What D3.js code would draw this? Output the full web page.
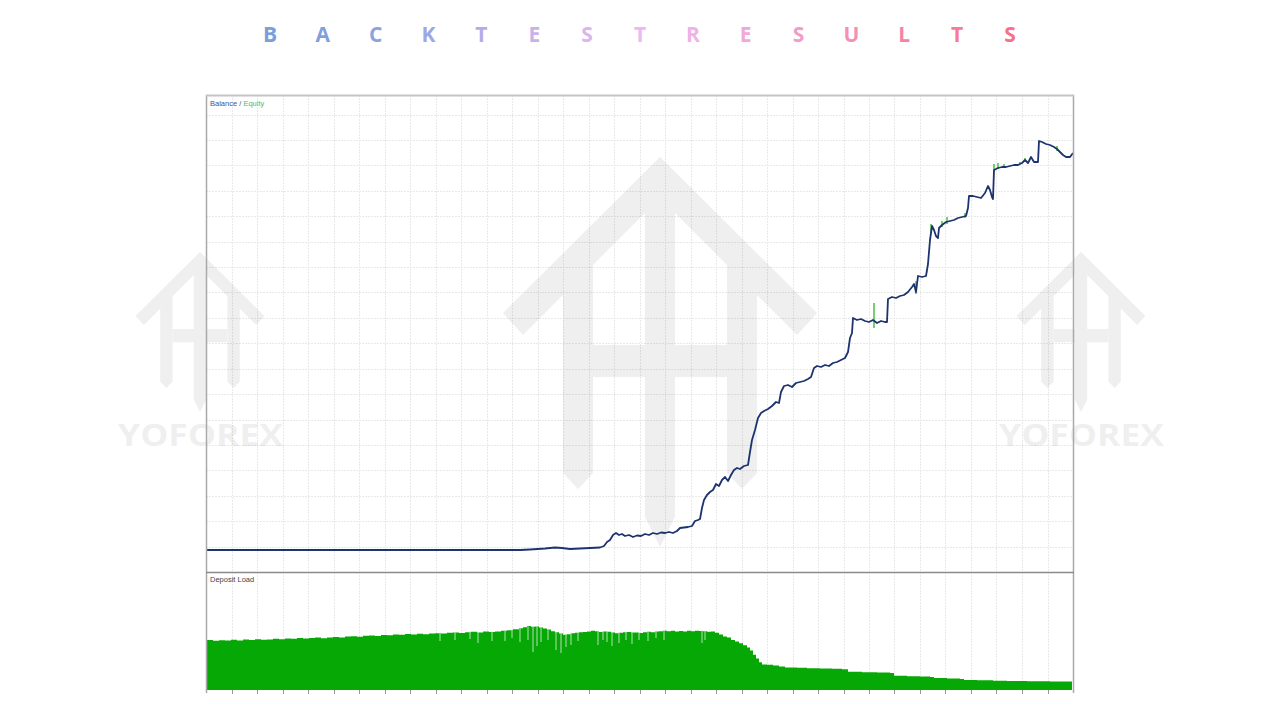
<!DOCTYPE html>
<html><head><meta charset="utf-8">
<script src="https://cdn.jsdelivr.net/npm/d3@7"></script>
<style>body{margin:0;background:#fff}svg{display:block}</style>
</head><body>
<svg id="c" width="1280" height="720"></svg>
<script>
// ---------- DATA ----------
const titleLetters = ["B","A","C","K","T","E","S","T","R","E","S","U","L","T","S"];
const titleColors = ["#7a9fdc","#7f9fdd","#8ba4e0","#9ea8e4","#b4ace8","#c9b1ec","#dab5ef","#e9b9f1","#f0b1e6","#f2a7d9","#f49cc8","#f590b5","#f683a3","#f77b95","#f8708a"];

// balance curve: [trade #, balance]
const balanceTrade = [0,93,193,293,313,323,338,348,355,363,373,383,393,397,400,403,406,409,412,415,418,422,426,430,434,438,442,446,450,454,458,462,466,470,473,477,481,485,488,491,493,495,497,500,503,506,509,512,515,518,521,524,527,530,533,537,541,543,545,548,551,554,557,561,565,569,572,574,577,581,585,589,593,597,601,604,607,610,614,618,622,626,630,634,638,641,643,645,646,650,654,658,662,666,670,674,678,680,681,685,689,693,697,701,705,707,709,711,715,719,721,723,725,727,729,731,732,735,739,743,747,751,755,759,761,762,766,770,774,778,781,783,785,786,787,791,795,799,803,807,811,815,818,821,824,827,831,832,835,839,843,847,850,853,856,859,863,866];
const balanceValue = [10000,10000,10000,10000,10000,10050,10150,10250,10200,10100,10150,10200,10250,10400,10800,11000,11500,11700,11500,11600,11400,11500,11300,11450,11400,11600,11500,11700,11600,11750,11700,11800,11700,11900,12200,12250,12300,12400,12900,13000,13100,14200,15000,15500,15800,16000,16600,16400,17000,17300,16900,17500,18000,18200,18100,18400,18500,19800,21000,22000,23200,23700,23900,24100,24400,24800,24700,25800,26400,26500,26300,26700,26800,26900,27100,27300,28200,28400,28300,28500,28400,28700,28800,29000,29200,29800,31200,31700,33200,33000,33100,32900,32800,33000,32700,32900,32800,32800,35100,35300,35200,35400,35500,35800,36300,36600,35800,37400,37300,37400,38600,41000,42400,42000,41400,41200,42200,42500,42800,42900,43000,43200,43300,43400,44200,45400,45400,45300,45200,45700,46400,46000,45300,45100,48000,48200,48300,48300,48400,48500,48500,48700,49000,48700,49300,48800,48800,50900,50800,50600,50500,50300,50100,49800,49500,49300,49300,49700];

// equity excursions away from balance: [trade #, low, high]
const equitySpikes = [[667,32200,34700],[709,35600,36900],[724,41700,42600],[735,42300,42900],[740,42600,43300],[758,43200,43700],[787,47800,48600],[791,48100,48700],[797,48200,48600],[813,48600,48800],[818,48800,49200],[850,49900,50400]];

// deposit load envelope: [trade #, load %]
const loadTrade = [0,6,12,18,24,30,36,42,48,54,60,66,72,78,84,90,96,102,108,114,120,126,132,138,144,150,156,162,168,174,180,186,192,198,204,210,216,222,228,234,240,246,252,258,264,270,276,282,288,294,300,306,312,316,320,324,328,332,336,340,344,348,352,356,360,364,368,372,376,380,384,388,392,396,400,404,408,412,416,420,424,428,432,436,440,444,448,452,456,460,464,468,472,476,480,484,488,492,496,500,504,508,512,516,520,524,528,532,536,540,543,546,549,552,555,560,566,572,578,590,600,613,625,635,641,655,670,683,687,700,713,723,727,740,753,757,770,786,800,820,843,865];
const loadValue = [25.0,24.6,24.9,24.7,25.1,24.8,25.2,25.0,25.4,25.1,25.3,25.6,25.4,25.8,25.6,26.0,25.7,26.0,26.2,25.9,26.3,26.5,26.2,26.7,26.9,26.6,27.1,27.3,27.0,27.5,27.4,27.8,27.6,28.0,27.8,28.1,27.9,28.3,28.4,28.2,28.6,28.8,28.5,28.9,29.1,28.8,29.3,29.0,29.2,29.6,29.9,30.4,30.9,31.4,32.0,31.6,31.8,31.2,30.8,30.2,29.4,28.9,28.2,27.6,27.9,28.4,28.6,28.9,29.0,29.3,29.6,29.4,29.0,29.3,29.1,28.7,28.4,28.6,28.9,29.0,28.7,28.8,28.5,28.9,29.1,28.9,29.3,29.4,29.6,29.4,29.6,29.3,29.5,29.3,29.6,29.4,29.6,29.5,29.4,29.1,29.2,28.6,27.8,26.8,26.2,25.0,24.2,23.4,22.4,21.2,19.8,17.6,15.8,13.9,12.8,12.6,12.3,11.8,11.2,11.1,10.9,10.8,10.6,10.4,9.1,8.9,8.7,8.5,7.1,6.9,6.7,6.5,6.0,5.8,5.5,5.0,4.9,4.6,4.5,4.4,4.3,4.25];
// individual low-load trades (pale spikes): [trade #, load %]
const loadDips = [[233,24.5],[248,25],[263,25.5],[271,23.5],[285,24.5],[298,24.5],[305,26],[313,24],[321,25],[326,19],[330,22],[334,24],[341,25],[349,20],[354,18.5],[359,21.5],[364,22.5],[371,24.5],[391,22.5],[396,25],[400,24],[405,22],[412,23.5],[419,25],[425,23],[432,25],[441,24.5],[449,26],[457,25],[495,23.5],[498,25]];

// ---------- DRAW ----------
const svg = d3.select("#c");
const L = 206, R = 1074, T = 95, MID = 572, B = 691;

// title
const tx = d3.scalePoint().domain(d3.range(titleLetters.length)).range([270, 1010]);
svg.append("g").selectAll("text").data(titleLetters).join("text")
  .attr("x", (d,i) => tx(i)).attr("y", 42)
  .attr("text-anchor", "middle")
  .attr("font-family", "'Open Sans', 'DejaVu Sans', sans-serif")
  .attr("font-weight", 700).attr("font-size", 21)
  .attr("fill", (d,i) => titleColors[i]).text(d => d);

const x = d3.scaleLinear().domain([0, 866]).range([207, 1073]);
const y = d3.scaleLinear().domain([7800, 55500]).range([MID, T]);
const yl = d3.scaleLinear().domain([0, 59]).range([690, MID]);

// grid
const gx = d3.scaleLinear().domain([0, 34]).range([L, 1073]);
const gy = d3.scaleLinear().domain([0, 18]).range([MID, 114.5]);
const grid = svg.append("g").attr("stroke", "#e9e9e9").attr("stroke-width", 1).attr("stroke-dasharray", "2,1");
grid.selectAll("line.v").data(d3.range(1, 34)).join("line")
  .attr("x1", d => Math.round(gx(d)) + 0.5).attr("x2", d => Math.round(gx(d)) + 0.5)
  .attr("y1", T).attr("y2", B);
grid.selectAll("line.h").data(d3.range(1, 19)).join("line")
  .attr("y1", d => Math.round(gy(d)) + 0.5).attr("y2", d => Math.round(gy(d)) + 0.5)
  .attr("x1", L).attr("x2", R);

// watermark
const chevron = [[0,0],[157,156],[137,178],[0,41],[-137,178],[-157,156]];
const leftBar = [[-97,105],[-67,105],[-67,316],[-82,332],[-97,316]];
const rightBar = [[67,105],[97,105],[97,316],[82,332],[67,316]];
const centerBar = [[-15,15],[15,15],[15,360],[0,390],[-15,360]];
const crossBar = [[-67,188],[67,188],[67,220],[-67,220]];
const shapes = [chevron, leftBar, rightBar, centerBar, crossBar];
function logo(cx, cy, s, withText) {
  const g = svg.append("g").attr("opacity", 0.06);
  const gg = g.append("g").attr("transform", `translate(${cx},${cy}) scale(${s})`);
  gg.selectAll("path").data(shapes).join("path")
    .attr("d", d => "M" + d.map(p => p.join(",")).join("L") + "Z").attr("fill", "#000");
  if (withText) {
    g.append("text").attr("x", cx - 82).attr("y", cy + 194)
      .attr("textLength", 165).attr("lengthAdjust", "spacingAndGlyphs")
      .attr("font-family", "'Open Sans', sans-serif").attr("font-weight", 700)
      .attr("font-size", 30).attr("fill", "#000").text("YOFOREX");
  }
}
logo(200, 252, 0.41, true);
logo(1081, 252, 0.41, true);
logo(660, 157, 1, false);

// deposit load
const area = d3.area().curve(d3.curveStepAfter)
  .x(d => x(d[0])).y0(690).y1(d => yl(d[1]));
const loadData = loadTrade.map((t,i) => [t, loadValue[i]]);
svg.append("path").datum(loadData).attr("d", area).attr("fill", "#06a806");
const stepVal = t => { let v = loadValue[0]; for (let i=0;i<loadTrade.length;i++) if (loadTrade[i] <= t) v = loadValue[i]; return v; };
svg.append("g").selectAll("line").data(loadDips).join("line")
  .attr("x1", d => x(d[0])).attr("x2", d => x(d[0]))
  .attr("y1", d => yl(stepVal(d[0])) - 0.5).attr("y2", d => yl(d[1]))
  .attr("stroke", "#b5e0b5").attr("stroke-width", 1);

// bottom ticks
svg.append("g").selectAll("line").data(d3.range(1, 34)).join("line")
  .attr("x1", d => Math.round(gx(d)) + 0.5).attr("x2", d => Math.round(gx(d)) + 0.5)
  .attr("y1", 690).attr("y2", 694).attr("stroke", "#999");

// equity spikes
svg.append("g").selectAll("line").data(equitySpikes).join("line")
  .attr("x1", d => x(d[0])).attr("x2", d => x(d[0]))
  .attr("y1", d => y(d[1])).attr("y2", d => y(d[2]))
  .attr("stroke", "#4cbd4c").attr("stroke-width", 1.5);

// balance line
const balance = balanceTrade.map((t,i) => [t, balanceValue[i]]);
svg.append("path").datum(balance)
  .attr("d", d3.line().x(d => x(d[0])).y(d => y(d[1])))
  .attr("fill", "none").attr("stroke", "#1d336e").attr("stroke-width", 1.8)
  .attr("stroke-linejoin", "round");

// frame
svg.append("line").attr("x1", L + 0.5).attr("x2", L + 0.5).attr("y1", T).attr("y2", B + 2).attr("stroke", "#a9a9a9").attr("stroke-width", 1.5);
svg.append("line").attr("x1", R - 0.5).attr("x2", R - 0.5).attr("y1", T).attr("y2", B + 2).attr("stroke", "#a9a9a9").attr("stroke-width", 1.5);
svg.append("line").attr("x1", L).attr("x2", R).attr("y1", T + 0.5).attr("y2", T + 0.5).attr("stroke", "#c4c4c4").attr("stroke-width", 2);
svg.append("line").attr("x1", L).attr("x2", R).attr("y1", MID + 0.5).attr("y2", MID + 0.5).attr("stroke", "#8a8a8a").attr("stroke-width", 1.5);

// labels
const lg = svg.append("text").attr("x", 210).attr("y", 106)
  .attr("font-family", "'Liberation Sans', 'DejaVu Sans', sans-serif").attr("font-size", 7.5);
lg.append("tspan").attr("fill", "#4a4f90").text("Balance");
lg.append("tspan").attr("fill", "#555").text(" / ");
lg.append("tspan").attr("fill", "#55bb55").text("Equity");
svg.append("text").attr("x", 210).attr("y", 582)
  .attr("font-family", "'Liberation Sans', 'DejaVu Sans', sans-serif").attr("font-size", 7.5)
  .attr("fill", "#444").text("Deposit Load");
</script>
</body></html>
